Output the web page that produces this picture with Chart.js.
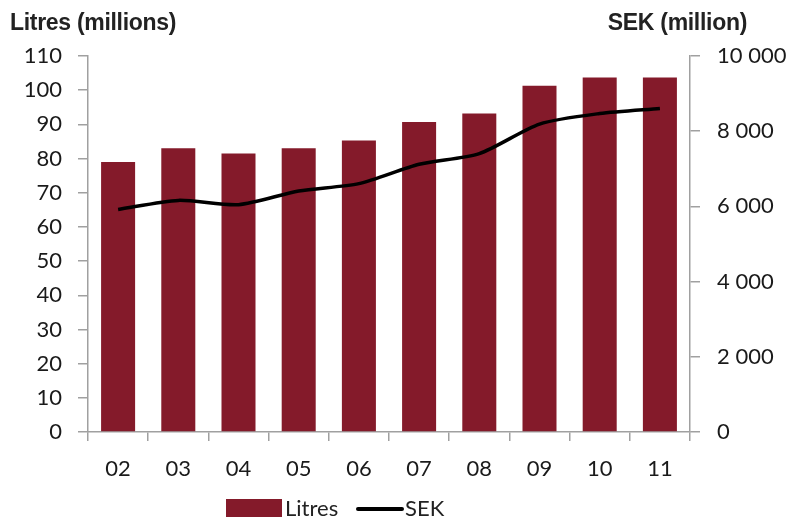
<!DOCTYPE html>
<html>
<head>
<meta charset="utf-8">
<script src="https://cdn.jsdelivr.net/npm/chart.js@4"></script>
<style>
  html, body { margin: 0; padding: 0; background: #fff; }
  #wrap { position: relative; width: 797px; height: 518px; }
</style>
</head>
<body>
<div id="wrap"><canvas id="myChart" width="797" height="518"></canvas></div>
<script>
const years = ['02', '03', '04', '05', '06', '07', '08', '09', '10', '11'];
const litres = [79, 83, 81.5, 83, 85.3, 90.7, 93.2, 101.3, 103.7, 103.7];
const sek = [5920, 6160, 6045, 6410, 6605, 7120, 7405, 8190, 8470, 8605];
const leftTitle = 'Litres (millions)';
const rightTitle = 'SEK (million)';

const barColor = '#841a2a';
const axisColor = '#a0a0a0';
const tickFont = { family: 'Lato', size: 22 };

// axis titles on top and the legend at the bottom
const extras = {
  id: 'extras',
  afterDraw: chart => {
    const ctx = chart.ctx;
    ctx.save();
    ctx.fillStyle = '#222';
    ctx.font = 'bold 23px "Liberation Sans"';
    ctx.letterSpacing = '-0.3px';
    ctx.textBaseline = 'alphabetic';
    ctx.textAlign = 'left';
    ctx.fillText(leftTitle, 10, 30);
    ctx.textAlign = 'right';
    ctx.fillText(rightTitle, 747, 30);

    ctx.letterSpacing = '0px';
    ctx.font = '22px Lato';
    ctx.textAlign = 'left';
    ctx.textBaseline = 'middle';
    const [bars, line] = chart.data.datasets;
    ctx.fillStyle = bars.backgroundColor;
    ctx.fillRect(226, 499, 56, 18);
    ctx.fillStyle = '#222';
    ctx.fillText(bars.label, 285, 509);
    ctx.strokeStyle = line.borderColor;
    ctx.lineWidth = 4;
    ctx.lineCap = 'round';
    ctx.beginPath();
    ctx.moveTo(358, 509);
    ctx.lineTo(402, 509);
    ctx.stroke();
    ctx.fillText(line.label, 405, 509);
    ctx.restore();
  }
};

window.onload = _ => {
  const ctx = document.getElementById('myChart').getContext('2d');

  new Chart(ctx, {
    type: 'bar',
    data: {
      labels: years,
      datasets: [{
        label: 'Litres',
        data: litres,
        backgroundColor: barColor,
        categoryPercentage: 1,
        barPercentage: 0.565,
        yAxisID: 'y',
        order: 2
      }, {
        type: 'line',
        label: 'SEK',
        data: sek,
        borderColor: '#000',
        borderWidth: 3.5,
        pointRadius: 0,
        tension: 0.25,
        yAxisID: 'y2',
        order: 1
      }]
    },
    options: {
      responsive: false,
      animation: false,
      layout: { padding: { top: 56, left: 0, right: 0, bottom: 0 } },
      plugins: {
        legend: { display: false },
        tooltip: { enabled: false }
      },
      scales: {
        x: {
          afterFit: s => { s.height = 86; },
          border: { color: axisColor, width: 1.5 },
          grid: { drawOnChartArea: false, tickLength: 9, color: axisColor, lineWidth: 1.5 },
          ticks: { font: tickFont, color: '#1a1a1a', padding: 15 }
        },
        y: {
          position: 'left',
          min: 0,
          max: 110,
          afterFit: s => { s.width = 88; },
          border: { color: axisColor, width: 1.5 },
          grid: { drawOnChartArea: false, tickLength: 10, color: axisColor, lineWidth: 1.5 },
          ticks: { stepSize: 10, font: tickFont, color: '#1a1a1a', padding: 16 }
        },
        y2: {
          position: 'right',
          min: 0,
          max: 10000,
          afterFit: s => { s.width = 107; },
          border: { color: axisColor, width: 1.5 },
          grid: { drawOnChartArea: false, tickLength: 10, color: axisColor, lineWidth: 1.5 },
          ticks: {
            stepSize: 2000,
            font: tickFont,
            color: '#1a1a1a',
            padding: 17,
            callback: v => v.toString().replace(/\B(?=(\d{3})+(?!\d))/g, ' ')
          }
        }
      }
    },
    plugins: [extras]
  });
};
</script>
</body>
</html>
